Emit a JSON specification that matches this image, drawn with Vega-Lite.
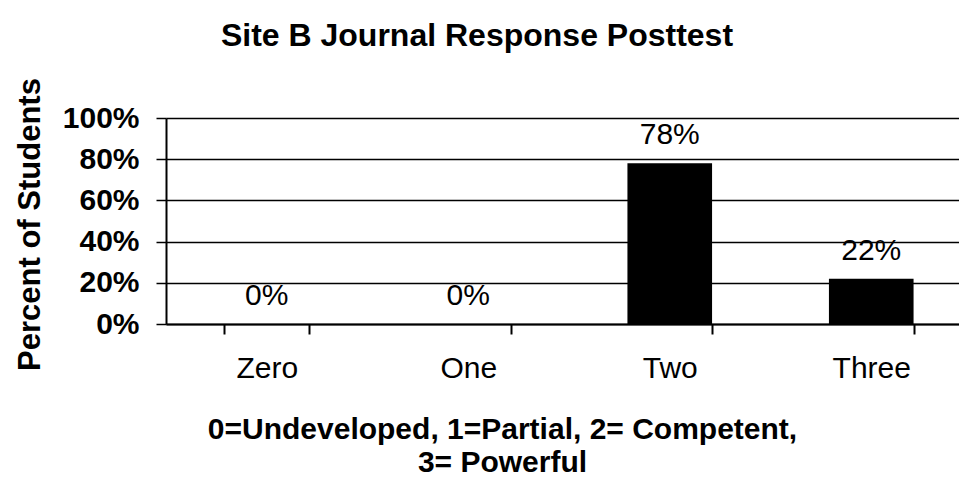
{
  "$schema": "https://vega.github.io/schema/vega-lite/v6.json",
  "autosize": "none",
  "width": 806,
  "height": 206,
  "padding": {"left": 166, "top": 118, "right": 0, "bottom": 154},
  "background": "white",
  "config": {"view": {"stroke": null}},
  "title": {
    "text": "Site B Journal Response Posttest",
    "font": "Liberation Sans",
    "fontSize": 32,
    "fontWeight": "bold",
    "color": "black",
    "anchor": "middle",
    "dx": -92,
    "offset": 0,
    "baseline": "alphabetic"
  },
  "data": {
    "values": [
      {"score": "Zero", "pct": 0},
      {"score": "One", "pct": 0},
      {"score": "Two", "pct": 0.78},
      {"score": "Three", "pct": 0.22}
    ]
  },
  "encoding": {
    "x": {
      "field": "score",
      "type": "nominal",
      "sort": ["Zero", "One", "Two", "Three"],
      "scale": {"paddingInner": 0.58, "paddingOuter": 0.29},
      "axis": {
        "title": ["0=Undeveloped, 1=Partial, 2= Competent,", "3= Powerful"],
        "labelAngle": 0,
        "tickBand": "extent",
        "tickSize": 10,
        "tickColor": "black",
        "tickWidth": 2,
        "domainColor": "black",
        "domainWidth": 2,
        "labelFont": "Liberation Sans",
        "labelFontSize": 30,
        "labelColor": "black",
        "labelPadding": 19,
        "titleFont": "Liberation Sans",
        "titleFontSize": 30,
        "titleFontWeight": "bold",
        "titleColor": "black",
        "titleX": 336,
        "titleY": 114,
        "titleAlign": "center",
        "titleBaseline": "alphabetic",
        "titleLineHeight": 33
      }
    },
    "y": {
      "field": "pct",
      "type": "quantitative",
      "scale": {"domain": [0, 1]},
      "axis": {
        "title": "Percent of Students",
        "format": ".0%",
        "values": [0, 0.2, 0.4, 0.6, 0.8, 1],
        "grid": true,
        "gridColor": "black",
        "gridWidth": 1.5,
        "gridOpacity": 1,
        "domainColor": "black",
        "domainWidth": 2,
        "tickColor": "black",
        "tickSize": 10,
        "tickWidth": 1.5,
        "labelFont": "Liberation Sans",
        "labelFontWeight": "bold",
        "labelFontSize": 30,
        "labelColor": "black",
        "labelPadding": 17,
        "labelOverlap": false,
        "titleFont": "Liberation Sans",
        "titleFontSize": 31,
        "titleFontWeight": "bold",
        "titleColor": "black",
        "titleX": -127,
        "titleY": 106,
        "titleAlign": "center",
        "titleBaseline": "alphabetic",
        "titleAngle": -90
      }
    }
  },
  "layer": [
    {"mark": {"type": "bar", "color": "black"}},
    {
      "mark": {"type": "text", "dy": -19, "baseline": "alphabetic", "font": "Liberation Sans", "fontSize": 30, "color": "black"},
      "encoding": {"text": {"field": "pct", "type": "quantitative", "format": ".0%"}}
    }
  ]
}
